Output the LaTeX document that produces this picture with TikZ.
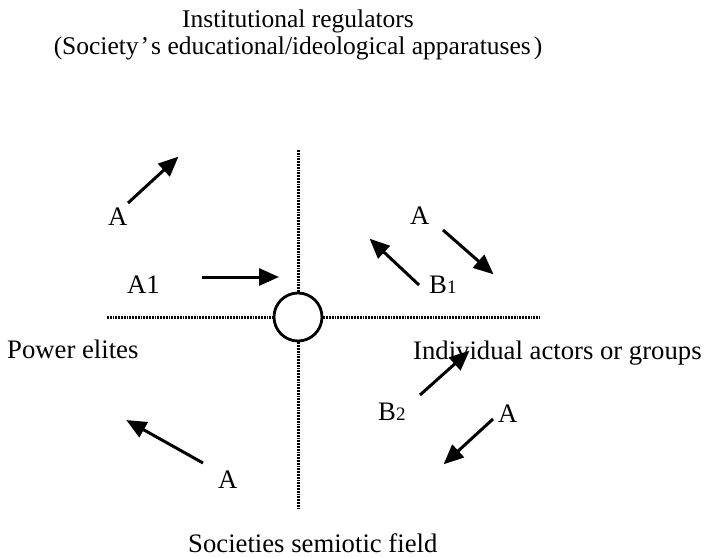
\documentclass[tikz,border=0pt]{standalone}
\usepackage{fontspec}
\setmainfont{Liberation Serif}
\usetikzlibrary{arrows.meta}
\tikzset{
  lbl/.style={inner sep=0pt, anchor=base west, font=\fontsize{26.7}{30}\selectfont},
  ttl/.style={inner sep=0pt, anchor=base, font=\fontsize{25.5}{30}\selectfont},
  axis/.style={line width=3pt, dash pattern=on 1.8pt off 1pt},
  arr/.style={line width=3pt, -{Triangle[length=20pt,width=17pt]}, shorten >=-2pt},
  hub/.style={circle, draw, line width=2.8pt, minimum size=48pt, inner sep=0pt}
}
\newcommand{\smd}[1]{{\fontsize{19}{19}\selectfont #1}}
\begin{document}
\begin{tikzpicture}[x=1pt,y=-1pt]
\useasboundingbox (0,0) rectangle (708,557);
% titles
\node[ttl] (t1) at (298,27) {Institutional regulators};
\node[ttl] (t2) at (298,54) {(Society\kern2pt’\kern2pt s educational/ideological apparatuses\kern3pt)};
% centre
\node[hub] (c) at (298,317) {};
\coordinate (vt) at (298,150);
\coordinate (vb) at (298,509);
\coordinate (hl) at (107,317);
\coordinate (hr) at (540,317);
\draw[axis] (vt) -- (c.north);
\draw[axis] (c.south) -- (vb);
\draw[axis] (hl) -- (c.west);
\draw[axis] (c.east) -- (hr);
% side labels
\node[lbl] (pe) at (7,358) {Power elites};
\node[lbl] (ia) at (413,359) {Individual actors or groups};
\node[lbl] (sf) at (188,552) {Societies semiotic field};
% letters
\node[lbl] (a1) at (108,225) {A};
\node[lbl] (a2) at (127,293) {A1};
\node[lbl] (a3) at (410,224) {A};
\node[lbl] (b1) at (429,293) {B\smd{1}};
\node[lbl] (b2) at (378,420) {B\smd{2}};
\node[lbl] (a4) at (498,422) {A};
\node[lbl] (a5) at (218,488) {A};
% arrows
\coordinate (p1s) at (128,203); \coordinate (p1e) at (177,158);
\coordinate (p2s) at (202,277); \coordinate (p2e) at (277,277);
\coordinate (p3s) at (443,230); \coordinate (p3e) at (492,273);
\coordinate (p4s) at (419,285); \coordinate (p4e) at (371,240);
\coordinate (p5s) at (420,395); \coordinate (p5e) at (468,352);
\coordinate (p6s) at (493,419); \coordinate (p6e) at (445,463);
\coordinate (p7s) at (203,463); \coordinate (p7e) at (128,421);
\draw[arr] (p1s) -- (p1e);
\draw[arr] (p2s) -- (p2e);
\draw[arr] (p3s) -- (p3e);
\draw[arr] (p4s) -- (p4e);
\draw[arr] (p5s) -- (p5e);
\draw[arr] (p6s) -- (p6e);
\draw[arr] (p7s) -- (p7e);
\end{tikzpicture}
\end{document}
